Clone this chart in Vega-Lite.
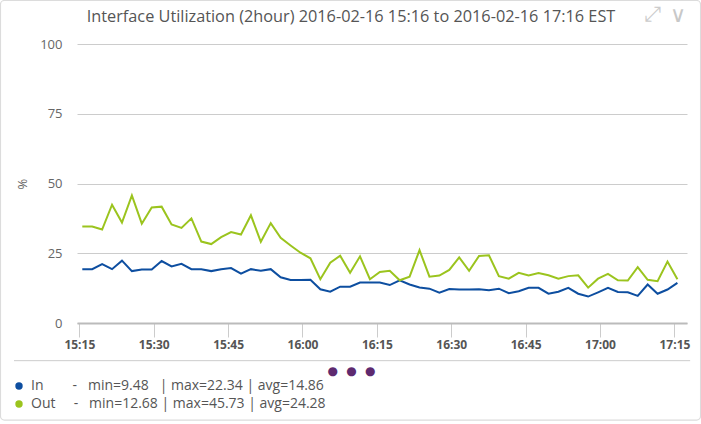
{
  "$schema": "https://vega.github.io/schema/vega-lite/v6.json",
  "width": 610,
  "height": 279,
  "autosize": {"type": "none"},
  "padding": {"left": 77, "top": 44, "right": 14, "bottom": 101},
  "background": "white",
  "config": {"view": {"stroke": null}, "font": "Open Sans"},
  "title": {
    "text": "Interface Utilization (2hour) 2016-02-16 15:16 to 2016-02-16 17:16 EST",
    "font": "Open Sans", "fontSize": 16.3, "fontWeight": "normal", "color": "#555555",
    "anchor": "middle", "baseline": "bottom", "offset": -41, "dx": -31
  },
  "layer": [
    {
      "data": {"values": [{}]},
      "mark": {"type": "rect", "fill": null, "stroke": "#dcdcdc", "strokeWidth": 1.2, "cornerRadius": 4},
      "encoding": {
        "x": {"datum": {"year": 2016, "month": 2, "date": 16, "hours": 14, "minutes": 59, "seconds": 6}, "type": "temporal"},
        "x2": {"datum": {"year": 2016, "month": 2, "date": 16, "hours": 17, "minutes": 20, "seconds": 16}},
        "y": {"datum": 115.6, "type": "quantitative"},
        "y2": {"datum": -34.8}
      }
    },
    {
      "data": {"values": [{}]},
      "mark": {"type": "rule", "stroke": "#cccccc", "strokeWidth": 1},
      "encoding": {
        "x": {"datum": {"year": 2016, "month": 2, "date": 16, "hours": 15, "minutes": 1, "seconds": 50}, "type": "temporal"},
        "x2": {"datum": {"year": 2016, "month": 2, "date": 16, "hours": 17, "minutes": 18, "seconds": 10}},
        "y": {"datum": -13.5, "type": "quantitative"}
      }
    },
    {
      "data": {"values": [{"icon": "⤢"}]},
      "mark": {"type": "text", "font": "DejaVu Sans", "fontSize": 21, "color": "#cccccc", "baseline": "middle", "align": "center"},
      "encoding": {
        "x": {"datum": {"year": 2016, "month": 2, "date": 16, "hours": 17, "minutes": 10, "seconds": 29}, "type": "temporal"},
        "y": {"datum": 110.4, "type": "quantitative"},
        "text": {"field": "icon"}
      }
    },
    {
      "data": {"values": [{"icon": "∨"}]},
      "mark": {"type": "text", "font": "DejaVu Sans", "fontSize": 22, "fontWeight": 300, "color": "#c8c8c8", "baseline": "middle", "align": "center"},
      "encoding": {
        "x": {"datum": {"year": 2016, "month": 2, "date": 16, "hours": 17, "minutes": 15, "seconds": 44}, "type": "temporal"},
        "y": {"datum": 110.4, "type": "quantitative"},
        "text": {"field": "icon"}
      }
    },
    {
      "data": {"values": [
        {"t": "2016-02-16T15:15:36", "In": 19.3, "Out": 34.6},
        {"t": "2016-02-16T15:17:36", "In": 19.3, "Out": 34.6},
        {"t": "2016-02-16T15:19:36", "In": 21.1, "Out": 33.5},
        {"t": "2016-02-16T15:21:36", "In": 19.3, "Out": 42.4},
        {"t": "2016-02-16T15:23:36", "In": 22.34, "Out": 36.0},
        {"t": "2016-02-16T15:25:36", "In": 18.6, "Out": 45.73},
        {"t": "2016-02-16T15:27:36", "In": 19.2, "Out": 35.6},
        {"t": "2016-02-16T15:29:36", "In": 19.2, "Out": 41.4},
        {"t": "2016-02-16T15:31:36", "In": 22.2, "Out": 41.7},
        {"t": "2016-02-16T15:33:36", "In": 20.3, "Out": 35.3},
        {"t": "2016-02-16T15:35:36", "In": 21.2, "Out": 34.1},
        {"t": "2016-02-16T15:37:36", "In": 19.3, "Out": 37.5},
        {"t": "2016-02-16T15:39:36", "In": 19.3, "Out": 29.2},
        {"t": "2016-02-16T15:41:36", "In": 18.6, "Out": 28.3},
        {"t": "2016-02-16T15:43:36", "In": 19.3, "Out": 30.8},
        {"t": "2016-02-16T15:45:36", "In": 19.7, "Out": 32.6},
        {"t": "2016-02-16T15:47:36", "In": 17.7, "Out": 31.7},
        {"t": "2016-02-16T15:49:36", "In": 19.3, "Out": 38.6},
        {"t": "2016-02-16T15:51:36", "In": 18.7, "Out": 29.1},
        {"t": "2016-02-16T15:53:36", "In": 19.3, "Out": 35.8},
        {"t": "2016-02-16T15:55:36", "In": 16.4, "Out": 30.5},
        {"t": "2016-02-16T15:57:36", "In": 15.4, "Out": 27.8},
        {"t": "2016-02-16T15:59:36", "In": 15.4, "Out": 25.2},
        {"t": "2016-02-16T16:01:36", "In": 15.5, "Out": 23.2},
        {"t": "2016-02-16T16:03:36", "In": 12.1, "Out": 15.7},
        {"t": "2016-02-16T16:05:36", "In": 11.2, "Out": 21.6},
        {"t": "2016-02-16T16:07:36", "In": 13.0, "Out": 24.1},
        {"t": "2016-02-16T16:09:36", "In": 13.0, "Out": 18.0},
        {"t": "2016-02-16T16:11:36", "In": 14.5, "Out": 23.9},
        {"t": "2016-02-16T16:13:36", "In": 14.5, "Out": 15.7},
        {"t": "2016-02-16T16:15:36", "In": 14.5, "Out": 18.3},
        {"t": "2016-02-16T16:17:36", "In": 13.6, "Out": 18.7},
        {"t": "2016-02-16T16:19:36", "In": 15.3, "Out": 15.3},
        {"t": "2016-02-16T16:21:36", "In": 13.8, "Out": 16.6},
        {"t": "2016-02-16T16:23:36", "In": 12.7, "Out": 26.1},
        {"t": "2016-02-16T16:25:36", "In": 12.3, "Out": 16.6},
        {"t": "2016-02-16T16:27:36", "In": 10.9, "Out": 17.0},
        {"t": "2016-02-16T16:29:36", "In": 12.2, "Out": 19.0},
        {"t": "2016-02-16T16:31:36", "In": 12.0, "Out": 23.5},
        {"t": "2016-02-16T16:33:36", "In": 12.0, "Out": 18.7},
        {"t": "2016-02-16T16:35:36", "In": 12.1, "Out": 24.0},
        {"t": "2016-02-16T16:37:36", "In": 11.7, "Out": 24.3},
        {"t": "2016-02-16T16:39:36", "In": 12.3, "Out": 16.8},
        {"t": "2016-02-16T16:41:36", "In": 10.7, "Out": 15.9},
        {"t": "2016-02-16T16:43:36", "In": 11.4, "Out": 18.0},
        {"t": "2016-02-16T16:45:36", "In": 12.6, "Out": 17.0},
        {"t": "2016-02-16T16:47:36", "In": 12.6, "Out": 17.9},
        {"t": "2016-02-16T16:49:36", "In": 10.5, "Out": 17.1},
        {"t": "2016-02-16T16:51:36", "In": 11.2, "Out": 15.9},
        {"t": "2016-02-16T16:53:36", "In": 12.6, "Out": 16.8},
        {"t": "2016-02-16T16:55:36", "In": 10.5, "Out": 17.1},
        {"t": "2016-02-16T16:57:36", "In": 9.48, "Out": 12.68},
        {"t": "2016-02-16T16:59:36", "In": 11.0, "Out": 15.9},
        {"t": "2016-02-16T17:01:36", "In": 12.6, "Out": 17.6},
        {"t": "2016-02-16T17:03:36", "In": 11.1, "Out": 15.3},
        {"t": "2016-02-16T17:05:36", "In": 11.0, "Out": 15.2},
        {"t": "2016-02-16T17:07:36", "In": 9.7, "Out": 20.0},
        {"t": "2016-02-16T17:09:36", "In": 13.8, "Out": 15.5},
        {"t": "2016-02-16T17:11:36", "In": 10.5, "Out": 15.0},
        {"t": "2016-02-16T17:13:36", "In": 12.0, "Out": 22.0},
        {"t": "2016-02-16T17:15:36", "In": 14.4, "Out": 15.7}
      ]},
      "transform": [{"fold": ["In", "Out"], "as": ["series", "value"]}],
      "mark": {"type": "line", "strokeWidth": 2, "interpolate": "linear"},
      "encoding": {
        "x": {
          "field": "t", "type": "temporal",
          "scale": {"domain": [
            {"year": 2016, "month": 2, "date": 16, "hours": 15, "minutes": 14, "seconds": 32},
            {"year": 2016, "month": 2, "date": 16, "hours": 17, "minutes": 17, "seconds": 32}
          ], "nice": false},
          "axis": {
            "values": [
              {"year": 2016, "month": 2, "date": 16, "hours": 15, "minutes": 15},
              {"year": 2016, "month": 2, "date": 16, "hours": 15, "minutes": 30},
              {"year": 2016, "month": 2, "date": 16, "hours": 15, "minutes": 45},
              {"year": 2016, "month": 2, "date": 16, "hours": 16, "minutes": 0},
              {"year": 2016, "month": 2, "date": 16, "hours": 16, "minutes": 15},
              {"year": 2016, "month": 2, "date": 16, "hours": 16, "minutes": 30},
              {"year": 2016, "month": 2, "date": 16, "hours": 16, "minutes": 45},
              {"year": 2016, "month": 2, "date": 16, "hours": 17, "minutes": 0},
              {"year": 2016, "month": 2, "date": 16, "hours": 17, "minutes": 15}
            ],
            "format": "%H:%M",
            "grid": false,
            "domain": true, "domainColor": "#bbbbbb", "domainWidth": 2,
            "ticks": true, "tickColor": "#cccccc", "tickSize": 14, "tickWidth": 1,
            "labelFont": "Open Sans", "labelFontSize": 12, "labelFontWeight": "bold", "labelColor": "#555555",
            "labelPadding": 2, "labelFlush": false,
            "title": "●\u00a0\u00a0●\u00a0\u00a0●", "titleColor": "#5e2a6f", "titleFontSize": 12, "titleFont": "DejaVu Sans",
            "titleX": 274, "titleY": 47, "titleBaseline": "middle", "titleAnchor": null, "titleAlign": "center"
          }
        },
        "y": {
          "field": "value", "type": "quantitative",
          "scale": {"domain": [0, 100], "nice": false},
          "axis": {
            "values": [0, 25, 50, 75, 100],
            "grid": true, "gridColor": "#cccccc", "gridWidth": 1,
            "domain": false, "ticks": false,
            "labelFont": "Open Sans", "labelFontSize": 13, "labelColor": "#666666", "labelPadding": 15,
            "title": "%", "titleFont": "Open Sans", "titleFontSize": 13, "titleFontWeight": "normal", "titleColor": "#666666",
            "titlePadding": 10
          }
        },
        "color": {
          "field": "series", "type": "nominal",
          "scale": {"domain": ["In", "Out"], "range": ["#0d4ea0", "#9bc41e"]},
          "legend": {
            "orient": "none", "legendX": -65, "legendY": 335, "title": null,
            "symbolType": "circle", "symbolSize": 55, "symbolStrokeWidth": 0,
            "labelFont": "Open Sans", "labelFontSize": 14, "labelColor": "#555555", "labelLimit": 600,
            "labelOffset": 5, "rowPadding": 4, "padding": 0,
            "labelExpr": "datum.label == 'In' ? 'In\u00a0\u00a0\u00a0\u00a0\u00a0\u00a0\u00a0\u00a0-\u00a0\u00a0\u00a0min=9.48\u00a0\u00a0\u00a0| max=22.34 | avg=14.86' : 'Out\u00a0\u00a0\u00a0\u00a0\u00a0-\u00a0\u00a0\u00a0min=12.68 | max=45.73 | avg=24.28'",
            "encode": {"symbols": {"update": {"fill": {"scale": "color", "field": "value"}, "opacity": {"value": 1}}}}
          }
        }
      }
    }
  ]
}
